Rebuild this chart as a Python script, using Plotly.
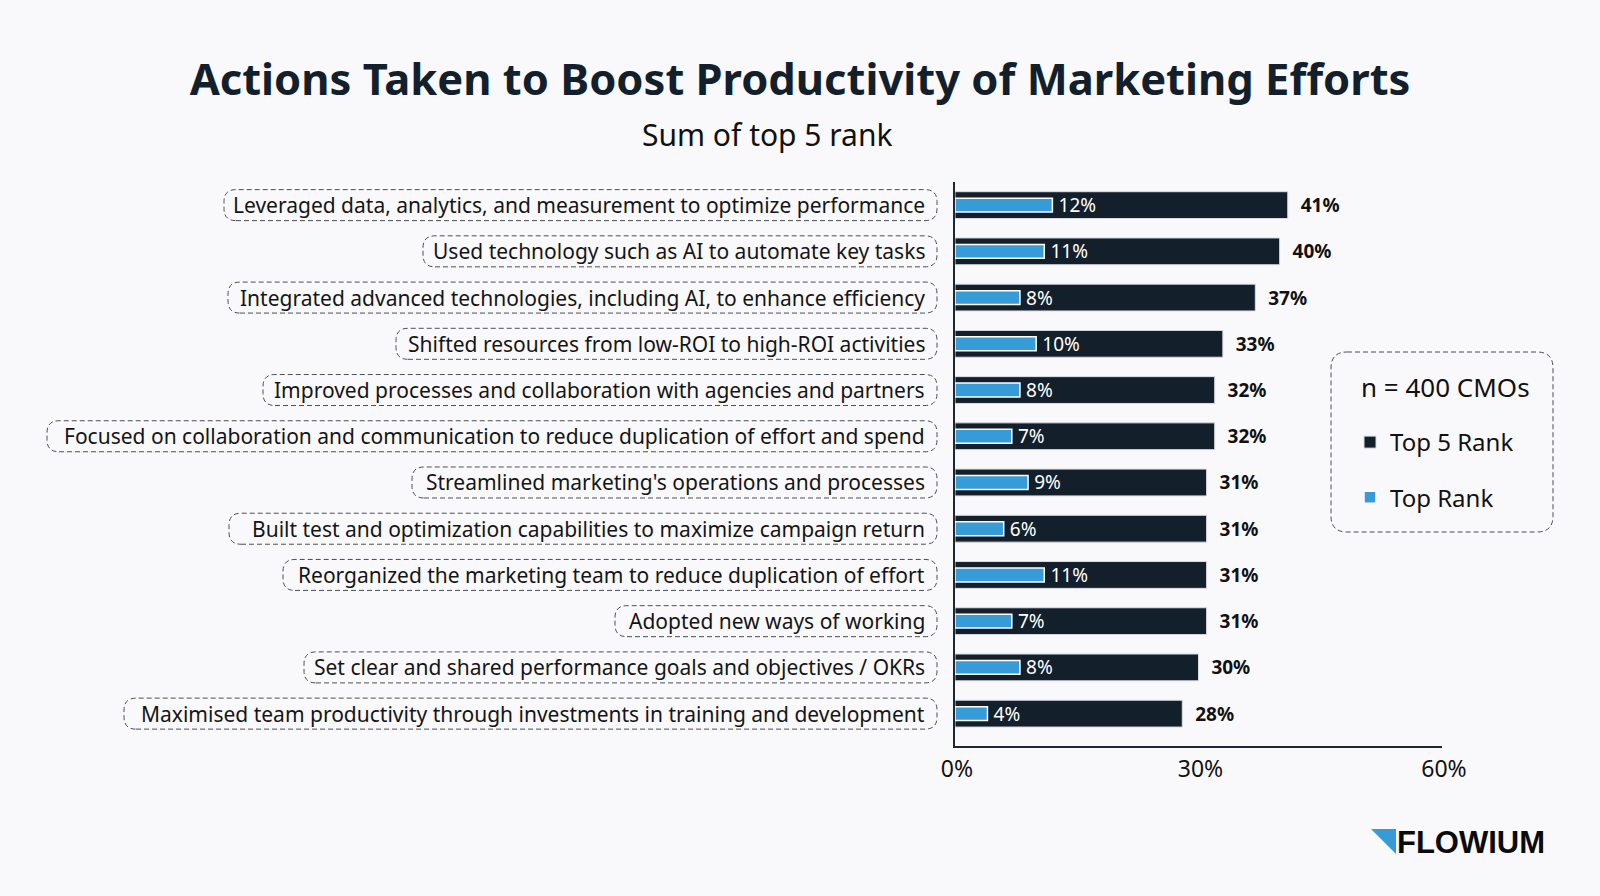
import plotly.graph_objects as go

# ---------------- data ----------------
actions = [
    "Leveraged data, analytics, and measurement to optimize performance",
    "Used technology such as AI to automate key tasks",
    "Integrated advanced technologies, including AI, to enhance efficiency",
    "Shifted resources from low-ROI to high-ROI activities",
    "Improved processes and collaboration with agencies and partners",
    "Focused on collaboration and communication to reduce duplication of effort and spend",
    "Streamlined marketing's operations and processes",
    "Built test and optimization capabilities to maximize campaign return",
    "Reorganized the marketing team to reduce duplication of effort",
    "Adopted new ways of working",
    "Set clear and shared performance goals and objectives / OKRs",
    "Maximised team productivity through investments in training and development",
]
top5_rank = [41, 40, 37, 33, 32, 32, 31, 31, 31, 31, 30, 28]
top_rank = [12, 11, 8, 10, 8, 7, 9, 6, 11, 7, 8, 4]
series_names = ["Top 5 Rank", "Top Rank"]
x_tick_values = [0, 30, 60]
x_tick_labels = ["0%", "30%", "60%"]
title_text = "Actions Taken to Boost Productivity of Marketing Efforts"
subtitle_text = "Sum of top 5 rank"
sample_note = "n = 400 CMOs"
brand_text = "FLOWIUM"

# ---------------- layout constants ----------------
W, H = 1600, 896
PL, PR, PT, PB = 955, 1442, 182, 746  # plot area in pixels
DARK = "#141f2c"
BLUE = "#369bd7"
BG = "#f9f9fc"
FONT = "Noto Sans, Open Sans, sans-serif"
BOX_LEFT = [224, 423, 228, 396, 263, 47, 412, 229, 283, 615, 304, 124]
BOX_RIGHT = 937
BOX_HALF_H = 15.5
DASH = "5px,3px"


def px2paper_x(px):
    return (px - PL) / (PR - PL)


def px2paper_y(py):
    return (PB - py) / (PB - PT)


def rounded_path(x0, y0, x1, y1, r, fx, fy):
    return (
        f"M{fx(x0 + r)},{fy(y0)} L{fx(x1 - r)},{fy(y0)} "
        f"Q{fx(x1)},{fy(y0)} {fx(x1)},{fy(y0 + r)} "
        f"L{fx(x1)},{fy(y1 - r)} Q{fx(x1)},{fy(y1)} {fx(x1 - r)},{fy(y1)} "
        f"L{fx(x0 + r)},{fy(y1)} Q{fx(x0)},{fy(y1)} {fx(x0)},{fy(y1 - r)} "
        f"L{fx(x0)},{fy(y0 + r)} Q{fx(x0)},{fy(y0)} {fx(x0 + r)},{fy(y0)} Z"
    )


fig = go.Figure()

fig.add_trace(go.Bar(
    y=actions, x=top5_rank, orientation="h", name=series_names[0],
    width=0.58, legendgroup="a",
    marker=dict(color=DARK, line=dict(color="#dadde3", width=1)),
    text=[f"\u00a0\u00a0{v}%" for v in top5_rank], texttemplate="%{text}",
    textposition="outside",
    textfont=dict(family=FONT, size=19, color="#111111", weight="bold"),
    constraintext="none", cliponaxis=False, hoverinfo="skip",
))
fig.add_trace(go.Bar(
    y=actions, x=top_rank, orientation="h", name=series_names[1],
    width=0.30, legendgroup="b",
    marker=dict(color=BLUE, line=dict(color="white", width=1.5)),
    text=[f"\u2009{v}%" for v in top_rank], texttemplate="%{text}",
    textposition="outside",
    textfont=dict(family=FONT, size=19, color="white"),
    constraintext="none", cliponaxis=False, hoverinfo="skip",
))

shapes = []
annotations = []

# category labels in dashed rounded boxes
for i, lab in enumerate(actions):
    annotations.append(dict(
        text=lab, xref="paper", x=0, xshift=-(PL - 927), xanchor="right",
        yref="y", y=lab, yanchor="middle", showarrow=False,
        font=dict(family=FONT, size=21, color="#151515"),
    ))
    shapes.append(dict(
        type="path", xref="paper", yref="y", ysizemode="pixel", yanchor=lab,
        path=rounded_path(BOX_LEFT[i], -BOX_HALF_H, BOX_RIGHT, BOX_HALF_H, 12,
                          px2paper_x, lambda v: v),
        line=dict(color="#4a4f57", width=1, dash=DASH),
        fillcolor="rgba(0,0,0,0)", layer="above",
    ))

# legend dashed box and its heading
shapes.append(dict(
    type="path", xref="paper", yref="paper",
    path=rounded_path(1331, 352, 1553, 532, 16, px2paper_x, px2paper_y),
    line=dict(color="#4a4f57", width=1, dash=DASH),
    fillcolor="rgba(0,0,0,0)",
))
annotations.append(dict(
    text=sample_note, xref="paper", yref="paper",
    x=px2paper_x(1359), y=px2paper_y(387), xanchor="left", yanchor="middle",
    showarrow=False, font=dict(family=FONT, size=26, color="#111111"),
))

# subtitle
annotations.append(dict(
    text=subtitle_text, xref="paper", yref="paper",
    x=px2paper_x(767), y=px2paper_y(134), xanchor="center", yanchor="middle",
    showarrow=False, font=dict(family=FONT, size=30, color="#111111"),
))

# brand logo
shapes.append(dict(
    type="path", xref="paper", yref="paper",
    path=(f"M{px2paper_x(1371)},{px2paper_y(829)} L{px2paper_x(1396)},{px2paper_y(829)} "
          f"L{px2paper_x(1396)},{px2paper_y(854)} Z"),
    fillcolor=BLUE, line=dict(width=0),
))
annotations.append(dict(
    text=f"<b>{brand_text}</b>", xref="paper", yref="paper",
    x=px2paper_x(1395), y=px2paper_y(842), xanchor="left", yanchor="middle",
    showarrow=False, font=dict(family="Liberation Sans, Arial, sans-serif", size=31, color="#0b0b0b"),
))

fig.update_layout(
    width=W, height=H,
    margin=dict(l=PL, r=W - PR, t=PT, b=H - PB, pad=0),
    paper_bgcolor=BG, plot_bgcolor=BG,
    barmode="overlay",
    title=dict(
        text=f"<b>{title_text}</b>", x=0.5, xref="container", xanchor="center",
        y=1 - 80 / H, yref="container", yanchor="middle",
        font=dict(family=FONT, size=43.5, color=DARK),
    ),
    xaxis=dict(
        range=[0, 60], tickvals=x_tick_values, ticktext=x_tick_labels,
        showgrid=False, zeroline=False, showline=True, linecolor="#1f2733", linewidth=2,
        ticks="", tickfont=dict(family=FONT, size=23, color="#111111"),
        ticklabelstandoff=1, ticklabelshift=2,
    ),
    yaxis=dict(
        categoryorder="array", categoryarray=actions,
        range=[len(actions) - 0.3, -0.5],
        showticklabels=False, showgrid=False, zeroline=False,
        showline=True, linecolor="#1f2733", linewidth=2, ticks="",
    ),
    legend=dict(
        font=dict(family=FONT, size=24, color="#111111"),
        x=px2paper_x(1350), xanchor="left", y=px2paper_y(420), yanchor="top",
        bgcolor="rgba(0,0,0,0)", traceorder="grouped", tracegroupgap=21,
        itemwidth=30,
    ),
    shapes=shapes, annotations=annotations,
    showlegend=True,
)

fig.write_html("out.html")
